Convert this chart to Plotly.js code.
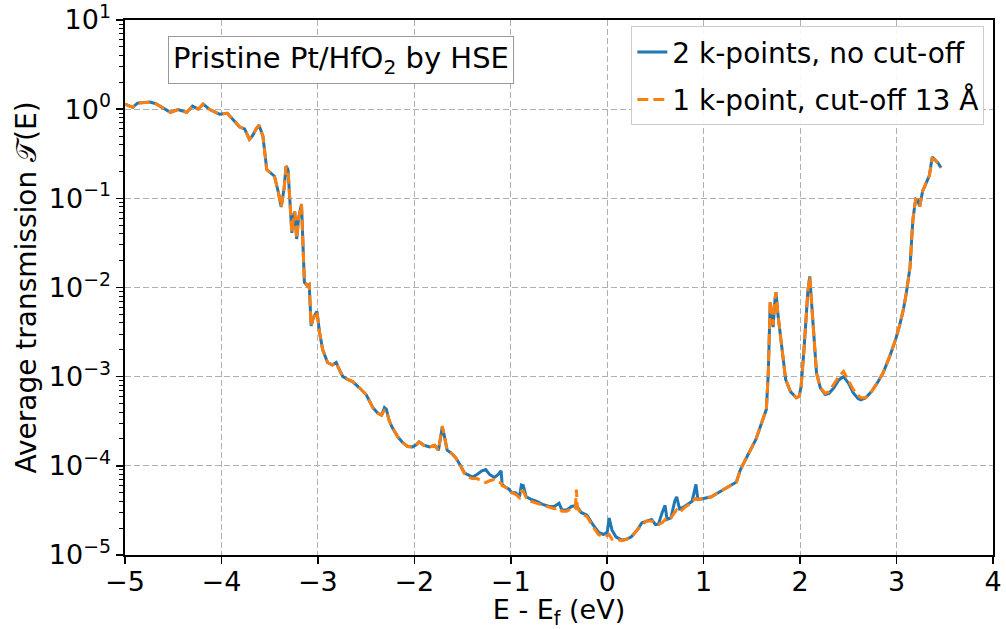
<!DOCTYPE html>
<html>
<head>
<meta charset="utf-8">
<script src="https://cdn.plot.ly/plotly-3.0.1.min.js"></script>
<style>html,body{margin:0;padding:0;background:#fff;}#chart{width:1006px;height:629px;}</style>
</head>
<body>
<div id="chart"></div>
<script>
// Blue series: 2 k-points, no cut-off
const energyBlue = [-5.00,-4.95,-4.92,-4.87,-4.80,-4.74,-4.68,-4.64,-4.58,-4.53,-4.45,-4.40,-4.36,-4.30,-4.24,-4.19,-4.12,-4.06,-4.02,-3.94,-3.91,-3.86,-3.81,-3.76,-3.71,-3.68,-3.64,-3.61,-3.57,-3.53,-3.48,-3.45,-3.41,-3.38,-3.35,-3.33,-3.31,-3.29,-3.27,-3.25,-3.24,-3.22,-3.20,-3.17,-3.16,-3.14,-3.11,-3.09,-3.07,-3.05,-3.01,-2.98,-2.95,-2.90,-2.85,-2.81,-2.77,-2.74,-2.69,-2.64,-2.57,-2.50,-2.43,-2.38,-2.34,-2.31,-2.29,-2.26,-2.23,-2.17,-2.12,-2.07,-2.02,-1.98,-1.95,-1.90,-1.84,-1.79,-1.75,-1.72,-1.71,-1.69,-1.66,-1.62,-1.57,-1.52,-1.48,-1.43,-1.40,-1.35,-1.30,-1.26,-1.22,-1.17,-1.13,-1.10,-1.09,-1.05,-1.02,-0.99,-0.95,-0.91,-0.89,-0.87,-0.84,-0.79,-0.73,-0.67,-0.60,-0.55,-0.50,-0.47,-0.42,-0.37,-0.32,-0.27,-0.21,-0.15,-0.09,-0.04,0.00,0.02,0.05,0.09,0.15,0.20,0.25,0.31,0.36,0.41,0.46,0.50,0.53,0.57,0.60,0.62,0.66,0.70,0.72,0.75,0.80,0.85,0.88,0.92,0.94,1.00,1.08,1.15,1.23,1.30,1.34,1.38,1.43,1.47,1.54,1.60,1.65,1.67,1.69,1.71,1.72,1.74,1.75,1.77,1.80,1.85,1.90,1.96,1.99,2.01,2.04,2.06,2.08,2.10,2.12,2.13,2.17,2.21,2.26,2.30,2.35,2.40,2.45,2.50,2.55,2.60,2.63,2.68,2.74,2.80,2.86,2.93,2.99,3.03,3.07,3.10,3.14,3.16,3.17,3.19,3.20,3.22,3.24,3.27,3.31,3.34,3.37,3.40,3.43,3.46];
const transBlue = [1.14,1.08,1.05,1.17,1.18,1.20,1.15,1.08,1.00,0.92,0.99,0.96,0.92,1.08,1.00,1.14,0.99,0.92,0.88,0.90,0.83,0.71,0.63,0.60,0.46,0.50,0.60,0.66,0.50,0.21,0.186,0.177,0.117,0.08,0.13,0.23,0.21,0.10,0.041,0.065,0.071,0.035,0.06,0.086,0.045,0.0114,0.0105,0.0108,0.0037,0.0045,0.0054,0.0030,0.0020,0.00144,0.00135,0.00144,0.00115,0.0010,0.00093,0.00088,0.00075,0.00063,0.00045,0.00039,0.00037,0.00045,0.00043,0.00032,0.00027,0.00021,0.000182,0.000165,0.000163,0.000172,0.000185,0.00017,0.000163,0.00017,0.00015,0.00022,0.00027,0.00022,0.00015,0.00014,0.000123,0.0001,0.000083,0.000078,0.000075,0.00008,0.000088,0.000091,0.00008,0.000074,0.00008,0.000088,0.000062,0.000057,0.000055,0.00005,0.00005,0.000045,0.000061,0.00006,0.000045,0.000042,0.00004,0.000037,0.000035,0.000035,0.000038,0.000032,0.000032,0.000035,0.000036,0.00003,0.000028,0.000022,0.000018,0.000017,0.000018,0.000026,0.000019,0.000016,0.0000147,0.000015,0.000016,0.000019,0.000023,0.000024,0.000025,0.000022,0.000022,0.00003,0.000036,0.000025,0.000026,0.00004,0.000045,0.000033,0.000035,0.000038,0.00004,0.000062,0.000042,0.000043,0.000045,0.00005,0.000056,0.000062,0.000066,0.00009,0.000117,0.00014,0.000196,0.0003,0.00043,0.0011,0.0068,0.0045,0.0036,0.0075,0.0088,0.005,0.0026,0.00093,0.00068,0.00058,0.0006,0.00077,0.002,0.0040,0.009,0.0133,0.007,0.004,0.0011,0.00075,0.00063,0.00065,0.00075,0.00092,0.0010,0.00085,0.00066,0.00057,0.00055,0.00058,0.00068,0.00085,0.0011,0.0017,0.0026,0.0037,0.0056,0.0085,0.017,0.04,0.058,0.085,0.098,0.095,0.081,0.12,0.155,0.18,0.29,0.27,0.25,0.22];

// Orange series: 1 k-point, cut-off 13 Å
const energyOrange = [-5.00,-4.95,-4.92,-4.87,-4.80,-4.74,-4.68,-4.64,-4.58,-4.53,-4.45,-4.40,-4.36,-4.30,-4.24,-4.19,-4.12,-4.06,-4.02,-3.94,-3.91,-3.86,-3.81,-3.76,-3.71,-3.68,-3.64,-3.61,-3.57,-3.53,-3.48,-3.45,-3.41,-3.38,-3.35,-3.33,-3.31,-3.29,-3.27,-3.25,-3.24,-3.22,-3.20,-3.17,-3.16,-3.14,-3.11,-3.09,-3.07,-3.05,-3.01,-2.98,-2.95,-2.90,-2.85,-2.81,-2.77,-2.74,-2.69,-2.64,-2.57,-2.50,-2.43,-2.38,-2.34,-2.31,-2.29,-2.26,-2.23,-2.17,-2.12,-2.07,-2.02,-1.98,-1.95,-1.90,-1.84,-1.79,-1.75,-1.72,-1.71,-1.69,-1.66,-1.62,-1.57,-1.52,-1.48,-1.43,-1.40,-1.35,-1.30,-1.26,-1.22,-1.17,-1.13,-1.10,-1.09,-1.05,-1.02,-0.99,-0.95,-0.91,-0.89,-0.87,-0.84,-0.79,-0.73,-0.67,-0.60,-0.55,-0.50,-0.47,-0.42,-0.37,-0.33,-0.32,-0.31,-0.27,-0.21,-0.15,-0.09,-0.04,0.00,0.02,0.05,0.09,0.15,0.20,0.25,0.31,0.36,0.41,0.46,0.50,0.53,0.57,0.60,0.62,0.66,0.70,0.72,0.75,0.80,0.85,0.88,0.92,0.94,1.00,1.08,1.15,1.23,1.30,1.34,1.38,1.43,1.47,1.54,1.60,1.65,1.67,1.69,1.71,1.72,1.74,1.75,1.77,1.80,1.85,1.90,1.96,1.99,2.01,2.04,2.06,2.08,2.10,2.12,2.13,2.17,2.21,2.26,2.30,2.35,2.40,2.45,2.50,2.55,2.60,2.63,2.68,2.74,2.80,2.86,2.93,2.99,3.03,3.07,3.10,3.14,3.16,3.17,3.19,3.20,3.22,3.24,3.27,3.31,3.34,3.37,3.40,3.43,3.46];
const transOrange = [1.14,1.08,1.05,1.17,1.18,1.20,1.15,1.08,1.00,0.92,0.99,0.96,0.92,1.08,1.00,1.14,0.99,0.92,0.88,0.90,0.83,0.71,0.63,0.60,0.46,0.50,0.60,0.66,0.50,0.21,0.186,0.177,0.117,0.08,0.13,0.23,0.21,0.10,0.041,0.065,0.071,0.035,0.06,0.086,0.045,0.0114,0.0105,0.0108,0.0037,0.0045,0.0054,0.0030,0.0020,0.00144,0.00135,0.00144,0.00115,0.0010,0.00093,0.00088,0.00075,0.00063,0.00045,0.00039,0.00037,0.00042,0.00041,0.00032,0.00027,0.00021,0.000182,0.000165,0.000163,0.000172,0.000185,0.00017,0.000163,0.00017,0.00015,0.00023,0.00028,0.00022,0.00015,0.00014,0.000123,0.000098,0.000082,0.000074,0.000072,0.000072,0.000068,0.000065,0.000068,0.00007,0.000066,0.000064,0.00006,0.000057,0.000055,0.00005,0.000048,0.000044,0.000052,0.000052,0.000044,0.00004,0.000038,0.000036,0.000034,0.000033,0.000034,0.000031,0.000031,0.000033,0.000033,0.000054,0.000034,0.000029,0.000027,0.000021,0.000017,0.000016,0.0000165,0.000017,0.000015,0.000015,0.0000145,0.000015,0.000016,0.000019,0.000022,0.000024,0.000024,0.000023,0.000022,0.000023,0.000025,0.000024,0.000026,0.00003,0.000032,0.00003,0.000034,0.000037,0.00004,0.000043,0.000042,0.000043,0.000045,0.00005,0.000056,0.000062,0.000066,0.00009,0.000117,0.00014,0.000196,0.0003,0.00043,0.0011,0.0072,0.0045,0.0038,0.0075,0.0088,0.005,0.0026,0.00093,0.00068,0.00058,0.0006,0.00077,0.002,0.0040,0.009,0.0133,0.007,0.004,0.0011,0.00075,0.00065,0.00068,0.00082,0.0010,0.00115,0.00092,0.00072,0.00062,0.00058,0.00058,0.00068,0.00085,0.0011,0.0017,0.0026,0.0037,0.0056,0.0085,0.017,0.04,0.058,0.085,0.098,0.095,0.081,0.12,0.155,0.18,0.28,0.27,0.25,0.22];

const yTickVals = [1e-5, 1e-4, 1e-3, 1e-2, 1e-1, 1, 10];
const yTickText = ['10<sup>−5</sup>','10<sup>−4</sup>','10<sup>−3</sup>','10<sup>−2</sup>','10<sup>−1</sup>','10<sup>0</sup>','10<sup>1</sup>'];
const xTickVals = [-5,-4,-3,-2,-1,0,1,2,3,4];

const minorVals = [];
for (let e = -5; e < 1; e++) { for (let m = 2; m <= 9; m++) minorVals.push(m * Math.pow(10, e)); }

const fam = 'DejaVu Sans, sans-serif';
const tickFont = {family: fam, size: 27, color: '#000'};
const titleFont = {family: fam, size: 28, color: '#000'};

const traces = [
  {x: energyBlue, y: transBlue, mode: 'lines', name: '2 k-points, no cut-off',
   legendgroup: 'a', line: {color: '#1f77b4', width: 3}},
  {x: energyOrange, y: transOrange, mode: 'lines', name: '1 k-point, cut-off 13 Å',
   legendgroup: 'b', line: {color: '#ff7f0e', width: 3, dash: '11px,5px'}}
];

const layout = {
  width: 1006, height: 629,
  margin: {l: 125, r: 13, t: 20, b: 74},
  paper_bgcolor: '#fff', plot_bgcolor: '#fff',
  font: titleFont,
  showlegend: true,
  legend: {x: 0.99, y: 0.988, xanchor: 'right', yanchor: 'top',
           bgcolor: 'rgba(255,255,255,0.9)', bordercolor: '#cccccc', borderwidth: 1,
           font: {family: fam, size: 28, color: '#000'},
           tracegroupgap: 8},
  xaxis: {
    range: [-5, 4], tickvals: xTickVals, ticks: 'outside', ticklen: 7, tickwidth: 1.5,
    tickcolor: '#000', showline: true, linecolor: '#000', linewidth: 1.6, mirror: true,
    showgrid: true, gridcolor: '#b0b0b0', griddash: '6px,3px', gridwidth: 1, zeroline: false,
    ticklabelstandoff: -5,
    title: {text: 'E - E<sub>f</sub> (eV)', font: {family: fam, size: 27, color: '#000'}, standoff: 11},
    tickfont: tickFont
  },
  yaxis: {
    type: 'log', range: [-5, 1], tickvals: yTickVals, ticktext: yTickText,
    ticks: 'outside', ticklen: 7, tickwidth: 1.5, tickcolor: '#000',
    showline: true, linecolor: '#000', linewidth: 1.6, mirror: true,
    showgrid: true, gridcolor: '#b0b0b0', griddash: '6px,3px', gridwidth: 1, zeroline: false,
    minor: {tickvals: minorVals, ticks: 'outside', ticklen: 4, tickwidth: 1, tickcolor: '#000', showgrid: false},
    title: {text: 'Average transmission 𝒯(E)', font: titleFont, standoff: 4},
    tickfont: tickFont
  },
  annotations: [{
    xref: 'paper', yref: 'paper', x: 0.249, y: 0.925, xanchor: 'center', yanchor: 'middle',
    text: 'Pristine Pt/HfO<sub>2</sub> by HSE', showarrow: false,
    font: {family: fam, size: 29, color: '#000'}, bgcolor: '#fff', bordercolor: '#999', borderwidth: 1, borderpad: 4
  }]
};

Plotly.newPlot('chart', traces, layout, {displayModeBar: false, staticPlot: true});
</script>
</body>
</html>
